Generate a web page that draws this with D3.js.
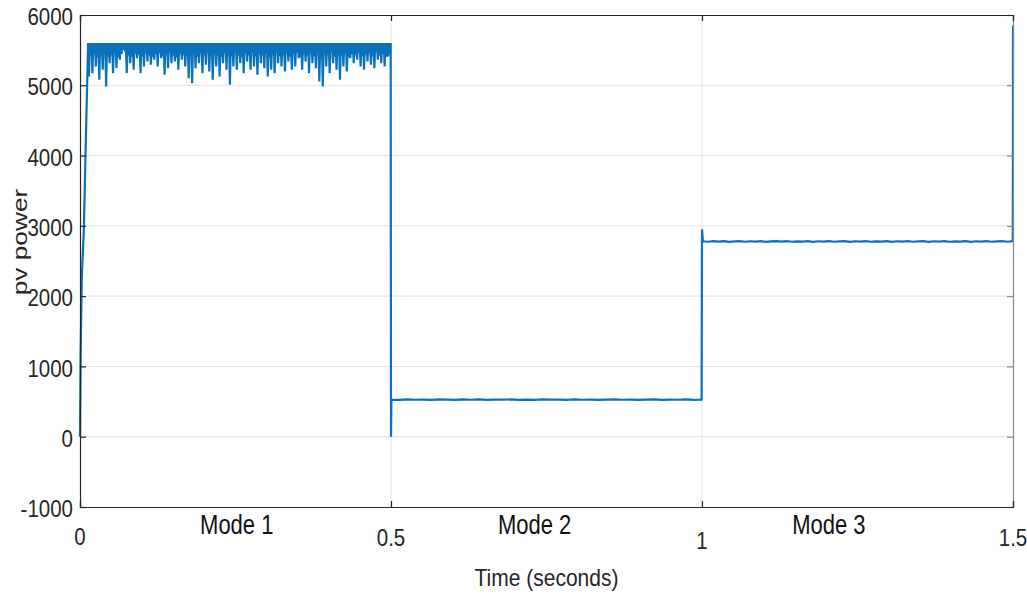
<!DOCTYPE html>
<html>
<head>
<meta charset="utf-8">
<script src="https://cdn.jsdelivr.net/npm/d3@7/dist/d3.min.js"></script>
<style>
  html, body { margin: 0; padding: 0; background: #fff; }
  svg { display: block; }
</style>
</head>
<body>
<svg id="chart" width="1027" height="594"></svg>
<script>
// ---- Data -------------------------------------------------------------
const timeTicks = [0, 0.5, 1, 1.5];
const timeTickLabels = ["0", "0.5", "1", "1.5"];
const powerTicks = [-1000, 0, 1000, 2000, 3000, 4000, 5000, 6000];
const powerTickLabels = ["-1000", "0", "1000", "2000", "3000", "4000", "5000", "6000"];

const modeLabels = ["Mode 1", "Mode 2", "Mode 3"];
const modeLabelTimes = [0.252, 0.731, 1.204];

// start-up ramp of the PV power (s, W)
const startTime = [0, 0.001, 0.003, 0.006, 0.013];
const startPower = [0, 1200, 2300, 2900, 5600];

// Mode 1: MPPT oscillation, upper level and the lower swings
const mode1Peak = 5600;
const mode1Dips = [
  5126, 5173, 5268, 5078, 5220, 4983, 5315, 5173, 5244, 5363,
  5505, 5173, 5315, 5220, 5387, 5173, 5268, 5339, 5292, 5363,
  5268, 5387, 5150, 5244, 5315, 5339, 5220, 5363, 5268, 5102,
  5031, 5244, 5315, 5173, 5292, 5197, 5078, 5268, 5126, 5315,
  5220, 5007, 5268, 5220, 5315, 5173, 5339, 5220, 5268, 5150,
  5315, 5244, 5126, 5220, 5173, 5315, 5268, 5197, 5339, 5220,
  5268, 5387, 5220, 5339, 5173, 5315, 5244, 5055, 4983, 5268,
  5173, 5315, 5220, 5078, 5268, 5197, 5387, 5315, 5363, 5268,
  5220, 5339, 5292, 5244, 5363, 5315, 5268, 5410
];
const mode1Ripple = [
  5420, 5450, 5400, 5440, 5470, 5410, 5430, 5460, 5395, 5445,
  5480, 5425, 5405, 5455, 5440, 5415, 5465, 5430, 5400, 5445,
  5460, 5410, 5440, 5470, 5425, 5395, 5455, 5430, 5415, 5465,
  5440, 5405, 5455, 5425, 5470, 5410, 5445, 5430, 5400, 5460,
  5440, 5415, 5465, 5425, 5405, 5455, 5430, 5475, 5410, 5445,
  5425, 5460, 5400, 5440, 5470, 5415, 5430, 5455, 5410, 5445,
  5465, 5405, 5440, 5425, 5460, 5415, 5445, 5400, 5455, 5430,
  5470, 5410, 5440, 5425, 5460, 5400, 5445, 5430, 5465, 5415,
  5440, 5455, 5410, 5470, 5425, 5445, 5405, 5440
];
const mode1Start = 0.013;
const mode1End = 0.4995;

// Mode 2: reduced irradiance, steady level with a faint ripple
const mode2Drop = [0.5, 0];
const mode2Ripple = [
  528, 525, 530, 526, 529, 524, 531, 527, 525, 530,
  526, 531, 524, 528, 527, 530, 525, 529, 524, 531,
  527, 528, 525, 530, 526, 529, 524, 528, 531, 526,
  529, 525, 527, 530, 524, 528, 526, 530, 525, 528
];
const mode2Start = 0.5006;
const mode2End = 0.9994;

// Mode 3: overshoot, then steady level with a small ripple
const mode3Spike = [1.0, 2950];
const mode3Ripple = [
  2780, 2774, 2782, 2775, 2783, 2773, 2779, 2782, 2774, 2781,
  2776, 2783, 2773, 2780, 2782, 2775, 2783, 2774, 2779, 2777,
  2782, 2773, 2781, 2775, 2783, 2774, 2780, 2782, 2773, 2781,
  2776, 2782, 2774, 2780, 2775, 2783, 2773, 2781, 2776, 2783,
  2774, 2779, 2782, 2773, 2781, 2775, 2782, 2774, 2780, 2777,
  2782, 2773, 2781, 2776, 2783, 2774, 2779, 2782, 2774, 2781
];
const mode3Start = 1.0015;
const mode3End = 1.4994;
const finalPoint = [1.5, 5850];

// ---- Layout -----------------------------------------------------------
const svg = d3.select("#chart");
const margin = { left: 80, right: 14, top: 15, bottom: 87 };
const W = 1027, H = 594;
const x0 = margin.left, x1 = W - margin.right;
const y0 = H - margin.bottom, y1 = margin.top;

const x = d3.scaleLinear().domain([0, 1.5]).range([x0, x1]);
const y = d3.scaleLinear().domain([-1000, 6000]).range([y0, y1]);

const textColor = "#262626";
const narrow = "'Liberation Sans Narrow', 'Arial Narrow', 'Liberation Sans', Arial, sans-serif";
const stretch = 1.18;

// grid
svg.append("g")
  .selectAll("line")
  .data(powerTicks.slice(1, -1))
  .join("line")
  .attr("x1", x0).attr("x2", x1)
  .attr("y1", d => y(d)).attr("y2", d => y(d))
  .attr("stroke", "#e3e3e3").attr("stroke-width", 1);

svg.append("g")
  .selectAll("line")
  .data(timeTicks.slice(1, -1))
  .join("line")
  .attr("x1", d => x(d)).attr("x2", d => x(d))
  .attr("y1", y0).attr("y2", y1)
  .attr("stroke", "#e3e3e3").attr("stroke-width", 1);

// ---- Signal -----------------------------------------------------------
const series = [];
startTime.forEach((t, i) => series.push([t, startPower[i]]));

const n1 = mode1Dips.length * 4;
const dt1 = (mode1End - mode1Start) / n1;
mode1Dips.forEach((d, i) => {
  const t = mode1Start + i * 4 * dt1;
  series.push([t, mode1Peak]);
  series.push([t + dt1, d]);
  series.push([t + 2 * dt1, mode1Peak]);
  series.push([t + 3 * dt1, mode1Ripple[i]]);
});
series.push([mode1End, mode1Peak]);

series.push(mode2Drop);
const dt2 = (mode2End - mode2Start) / (mode2Ripple.length - 1);
mode2Ripple.forEach((p, i) => series.push([mode2Start + i * dt2, p]));

series.push(mode3Spike);
const dt3 = (mode3End - mode3Start) / (mode3Ripple.length - 1);
mode3Ripple.forEach((p, i) => series.push([mode3Start + i * dt3, p]));
series.push([1.4997, 2778]);
series.push(finalPoint);

const line = d3.line().x(d => x(d[0])).y(d => y(d[1]));

svg.append("path")
  .datum(series)
  .attr("d", line)
  .attr("fill", "none")
  .attr("stroke", "#0a72bb")
  .attr("stroke-width", 2.2)
  .attr("stroke-linejoin", "miter")
  .attr("stroke-miterlimit", 2);

// ---- Axes box and ticks ----------------------------------------------
const axisLeft = d3.axisLeft(y).tickValues(powerTicks).tickSize(-6).tickFormat("");
const axisRight = d3.axisRight(y).tickValues(powerTicks).tickSize(-6).tickFormat("");
const axisBottom = d3.axisBottom(x).tickValues(timeTicks).tickSize(-6).tickFormat("");
const axisTop = d3.axisTop(x).tickValues(timeTicks).tickSize(-6).tickFormat("");

function styleAxis(g, color) {
  g.selectAll("path").attr("stroke", color).attr("stroke-width", 1.2);
  g.selectAll("line").attr("stroke", color).attr("stroke-width", 1.2);
}
svg.append("g").attr("transform", `translate(${x0},0)`).call(axisLeft).call(g => styleAxis(g, "#262626"));
svg.append("g").attr("transform", `translate(${x1},0)`).call(axisRight).call(g => styleAxis(g, "#8a8a8a"));
svg.append("g").attr("transform", `translate(0,${y0})`).call(axisBottom).call(g => styleAxis(g, "#262626"));
svg.append("g").attr("transform", `translate(0,${y1})`).call(axisTop).call(g => styleAxis(g, "#262626"));

// ---- Text -------------------------------------------------------------
function label(px, py, str, opts) {
  const g = svg.append("g")
    .attr("transform", `translate(${px},${py}) scale(1,${opts.sy || stretch})` + (opts.rotate ? ` rotate(${opts.rotate})` : ""));
  g.append("text")
    .attr("text-anchor", opts.anchor || "middle")
    .attr("dominant-baseline", "central")
    .attr("font-family", opts.family || narrow)
    .attr("font-size", opts.size || 20.5)
    .attr("fill", opts.color || textColor)
    .text(str);
}

powerTicks.forEach((v, i) => label(x0 - 7, y(v) + 2, powerTickLabels[i], { anchor: "end" }));

const timeLabelOffsets = [30, 31, 34, 31];
timeTicks.forEach((v, i) => label(x(v), y0 + timeLabelOffsets[i], timeTickLabels[i], {}));

modeLabels.forEach((m, i) => label(x(modeLabelTimes[i]), y0 + 17, m, { size: 22, sy: 1.25, color: "#111" }));

label((x0 + x1) / 2, 577, "Time (seconds)", { size: 21 });

label(19, 242, "pv power", {
  rotate: -90, sy: 1.25, size: 21,
  family: "'Liberation Sans', Arial, Helvetica, sans-serif"
});
</script>
</body>
</html>
